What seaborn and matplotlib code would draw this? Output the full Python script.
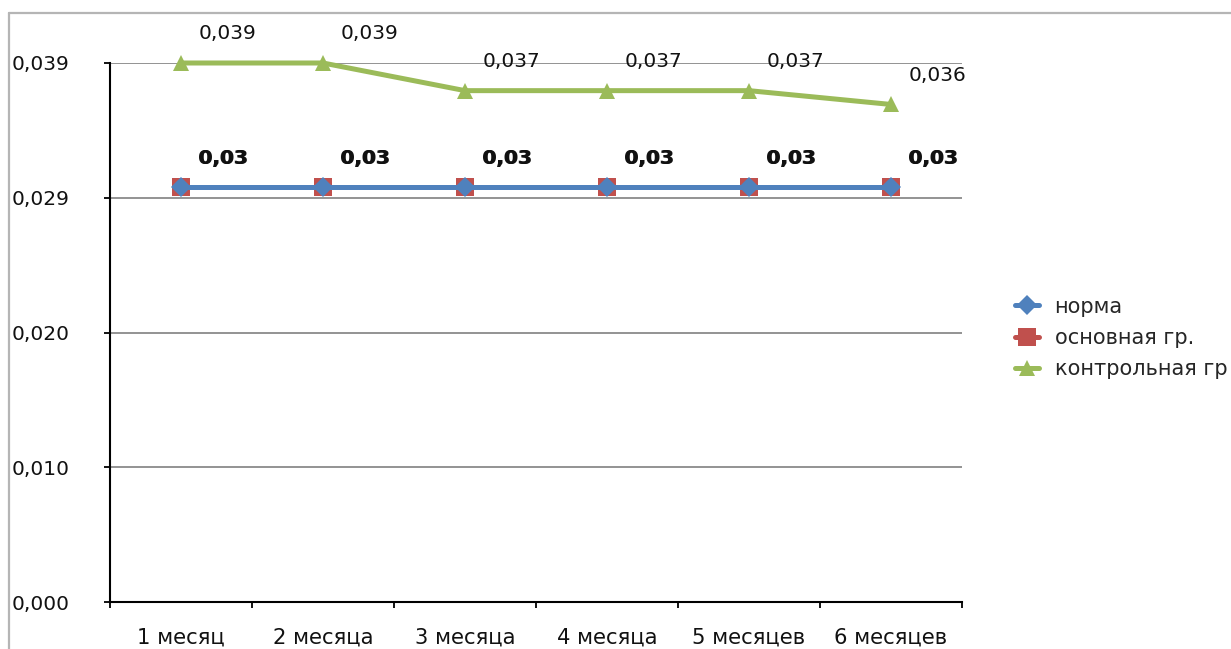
import numpy as np
import pandas as pd
import matplotlib
matplotlib.use("Agg")
import matplotlib.pyplot as plt
import seaborn as sns
from matplotlib.lines import Line2D

# ---- data ----
months = ["1 месяц", "2 месяца", "3 месяца", "4 месяца", "5 месяцев", "6 месяцев"]
norma = [0.03, 0.03, 0.03, 0.03, 0.03, 0.03]
osnovnaya = [0.03, 0.03, 0.03, 0.03, 0.03, 0.03]
kontrolnaya = [0.039, 0.039, 0.037, 0.037, 0.037, 0.036]
series_names = ["норма", "основная гр.", "контрольная гр"]
y_tick_labels = ["0,000", "0,010", "0,020", "0,029", "0,039"]
y_max = 0.039

sns.set_style("white")
plt.rcParams["font.family"] = ["DejaVu Sans"]

W, H = 1231, 649
fig = plt.figure(figsize=(W / 100, H / 100), dpi=100)
ax = fig.add_axes([110 / W, 1 - 602 / H, (962 - 110) / W, (602 - 63) / H])

pos = np.arange(len(months))
df = pd.DataFrame({
    "pos": np.tile(pos, 3),
    "value": norma + osnovnaya + kontrolnaya,
    "series": np.repeat(series_names, len(months)),
})

styles = {
    "норма": dict(color="#4F81BD", marker="D", markersize=10.6),
    "основная гр.": dict(color="#C0504D", marker="s", markersize=12.5),
    "контрольная гр": dict(color="#9BBB59", marker="^", markersize=12),
}

# red first so the blue series sits on top of it
for name in ["основная гр.", "норма", "контрольная гр"]:
    st = styles[name]
    sns.lineplot(data=df[df["series"] == name], x="pos", y="value",
                 color=st["color"], marker=st["marker"],
                 markersize=st["markersize"], markeredgewidth=0,
                 linewidth=3.6, ax=ax, legend=False, clip_on=False,
                 zorder=3)

# value labels
def fmt(v, nd):
    return f"{v:.{nd}f}".replace(".", ",")

for x, v in zip(pos, kontrolnaya):
    ax.annotate(fmt(v, 3), (x, v), xytext=(12.5, 21), textcoords="offset points",
                ha="left", va="center", fontsize=14.5, color="#111111",
                annotation_clip=False)
for x, v1, v2 in zip(pos, norma, osnovnaya):
    ax.annotate(fmt(v1, 2), (x, v1), xytext=(12.2, 21), textcoords="offset points",
                ha="left", va="center", fontsize=14.5, color="#111111",
                fontweight="bold", annotation_clip=False)
    ax.annotate(fmt(v2, 2), (x, v2), xytext=(12.8, 21), textcoords="offset points",
                ha="left", va="center", fontsize=14.5, color="#111111",
                fontweight="bold", annotation_clip=False)

# axes
ax.set_xlim(-0.5, len(months) - 0.5)
ax.set_ylim(0, y_max)
ax.set_xlabel("")
ax.set_ylabel("")

yt = np.linspace(0, y_max, len(y_tick_labels))
ax.set_yticks(yt)
ax.set_yticklabels(y_tick_labels, fontsize=14.5, color="#111111")
for lab in ax.get_yticklabels():
    lab.set_horizontalalignment("left")
ax.tick_params(axis="y", which="major", direction="out", length=4.5, width=1.3,
               color="black", pad=66, left=True)

ax.set_xticks(pos)
ax.set_xticklabels(months, fontsize=15.2, color="#111111")
ax.set_xticks(np.arange(-0.5, len(months)), minor=True)
ax.tick_params(axis="x", which="major", length=0, pad=18.5)
ax.tick_params(axis="x", which="minor", direction="out", length=4.5, width=1.3,
               color="black", bottom=True)

ax.yaxis.grid(True, color="#8a8a8a", linewidth=1.3)
ax.xaxis.grid(False)
ax.set_axisbelow(True)
for side in ["top", "right"]:
    ax.spines[side].set_visible(False)
for side in ["left", "bottom"]:
    ax.spines[side].set_color("black")
    ax.spines[side].set_linewidth(1.5)
    ax.spines[side].set_zorder(2.5)

# legend
handles = [Line2D([0], [0], color=styles[n]["color"], marker=styles[n]["marker"],
                  markersize=styles[n]["markersize"], markeredgewidth=0,
                  linewidth=3.6) for n in series_names]
fig.legend(handles, series_names, loc="center left",
           bbox_to_anchor=(1015 / W, 1 - 338 / H), frameon=False,
           fontsize=15, handlelength=1.15, handletextpad=0.75,
           labelspacing=0.55, borderpad=0, borderaxespad=0)

# outer chart frame (left and top edges)
fig.add_artist(Line2D([8.5 / W, 8.5 / W], [0, 1 - 13 / H], transform=fig.transFigure,
                      color="#b5b5b5", linewidth=1.6))
fig.add_artist(Line2D([8.5 / W, 1], [1 - 13 / H, 1 - 13 / H], transform=fig.transFigure,
                      color="#b5b5b5", linewidth=1.6))

fig.savefig("out.png", dpi=100, facecolor="white")
